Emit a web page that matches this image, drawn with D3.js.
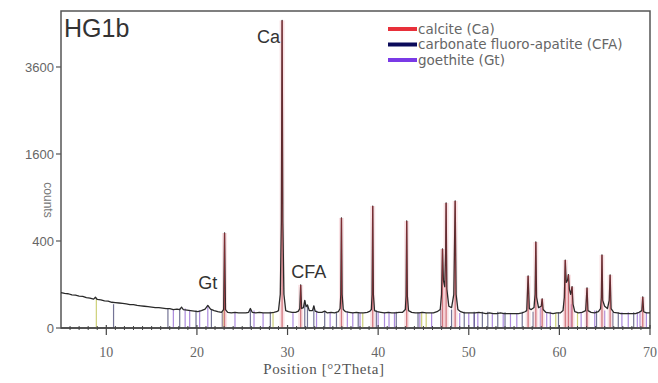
<!DOCTYPE html>
<html>
<head>
<meta charset="utf-8">
<script src="https://cdn.jsdelivr.net/npm/d3@7/dist/d3.min.js"></script>
<style>
  html, body { margin: 0; padding: 0; background: #fff; }
  svg { display: block; }
</style>
</head>
<body>
<div id="chart"></div>
<script>
// measured pattern, [°2Theta, counts]
const pattern = [
  [5.0, 66], [5.4, 63], [5.8, 62], [6.2, 58], [6.6, 57], [7.0, 54], [7.4, 53], [7.8, 49],
  [8.2, 47], [8.6, 44], [8.8, 50], [9.0, 43], [9.4, 42], [9.8, 39], [10.2, 38], [10.6, 35],
  [11.0, 34], [11.4, 33], [11.8, 32], [12.2, 31], [12.6, 29], [13.0, 29], [13.4, 27], [13.8, 26],
  [14.2, 25], [14.6, 24], [15.0, 23], [15.4, 22], [15.8, 22], [16.2, 21], [16.6, 20], [17.0, 20],
  [17.4, 18], [17.8, 19], [18.1, 18], [18.3, 23], [18.5, 18], [18.9, 17], [19.3, 16], [19.7, 15],
  [20.1, 14], [20.5, 16], [20.9, 19], [21.2, 27], [21.5, 19], [21.9, 16], [22.3, 14], [22.7, 13],
  [22.95, 18], [23.05, 477], [23.15, 18], [23.4, 13], [23.8, 12], [24.2, 13], [24.6, 12], [25.0, 12],
  [25.4, 12], [25.7, 13], [25.9, 20], [26.1, 13], [26.5, 12], [26.9, 13], [27.3, 12], [27.7, 12],
  [28.1, 12], [28.5, 13], [28.8, 14], [29.0, 16], [29.2, 60], [29.32, 600], [29.4, 5000], [29.48, 600],
  [29.6, 60], [29.8, 16], [30.1, 14], [30.5, 13], [30.9, 13], [31.2, 15], [31.35, 20], [31.45, 98],
  [31.55, 20], [31.75, 22], [31.9, 40], [32.05, 24], [32.2, 28], [32.4, 16], [32.75, 16], [32.9, 26],
  [33.05, 15], [33.4, 13], [33.8, 13], [34.1, 15], [34.4, 12], [34.8, 13], [35.2, 12], [35.6, 14],
  [35.8, 20], [35.88, 60], [35.95, 640], [36.02, 60], [36.15, 18], [36.4, 14], [36.8, 13], [37.2, 12],
  [37.6, 13], [38.0, 12], [38.4, 12], [38.8, 13], [39.1, 15], [39.25, 18], [39.33, 60], [39.4, 786],
  [39.47, 60], [39.6, 16], [39.9, 14], [40.3, 13], [40.7, 12], [41.1, 13], [41.5, 12], [41.9, 12],
  [42.3, 13], [42.7, 13], [43.0, 18], [43.08, 55], [43.15, 605], [43.22, 55], [43.35, 16], [43.7, 13],
  [44.1, 12], [44.5, 12], [44.9, 13], [45.3, 12], [45.7, 12], [46.1, 12], [46.5, 14], [46.85, 18],
  [47.0, 60], [47.1, 330], [47.2, 120], [47.35, 90], [47.45, 300], [47.5, 826], [47.58, 80], [47.8, 25],
  [48.1, 22], [48.35, 60], [48.5, 852], [48.6, 60], [48.8, 18], [49.1, 14], [49.5, 12], [49.9, 12],
  [50.3, 12], [50.7, 12], [51.1, 13], [51.5, 12], [51.9, 11], [52.3, 12], [52.7, 11], [53.1, 11],
  [53.5, 12], [53.9, 11], [54.3, 11], [54.7, 11], [55.1, 11], [55.5, 11], [55.9, 12], [56.2, 14],
  [56.4, 16], [56.55, 143], [56.68, 20], [56.9, 18], [57.2, 22], [57.32, 60], [57.4, 391], [57.48, 50],
  [57.7, 22], [58.0, 25], [58.1, 45], [58.2, 18], [58.5, 13], [58.9, 12], [59.3, 11], [59.7, 12],
  [60.1, 12], [60.4, 16], [60.55, 50], [60.65, 244], [60.75, 110], [60.9, 120], [61.0, 150], [61.1, 80],
  [61.25, 60], [61.4, 90], [61.5, 30], [61.7, 14], [62.1, 12], [62.5, 13], [62.9, 16], [63.05, 85],
  [63.15, 16], [63.5, 13], [63.9, 12], [64.3, 14], [64.55, 20], [64.63, 50], [64.7, 282], [64.78, 40],
  [65.0, 25], [65.3, 20], [65.5, 40], [65.6, 149], [65.7, 20], [66.0, 13], [66.4, 12], [66.8, 11],
  [67.2, 11], [67.6, 11], [68.0, 11], [68.4, 11], [68.8, 13], [69.1, 16], [69.2, 51], [69.3, 14],
  [69.6, 12], [70.0, 12]
];

// reference sticks, [°2Theta, counts]
const calciteSticks = [
  [23.05, 477], [29.4, 5000], [31.45, 98], [35.95, 640], [39.4, 786], [43.15, 605], [47.1, 330],
  [47.5, 826], [48.5, 852], [56.55, 143], [57.4, 391], [58.1, 45], [60.65, 244], [61.0, 150],
  [61.4, 90], [63.05, 85], [64.7, 282], [65.6, 149], [69.2, 51]
];
const cfaSticks = [
  [10.8, 30], [16.8, 20], [18.1, 20], [19.9, 16], [21.6, 18], [22.8, 14], [25.9, 20], [28.1, 14],
  [31.9, 40], [32.2, 28], [32.9, 26], [34.1, 14], [35.4, 13], [37.8, 13], [39.8, 16], [42.0, 14],
  [44.4, 13], [46.9, 20], [48.1, 18], [49.5, 14], [50.6, 14], [51.5, 14], [52.1, 14], [53.2, 14],
  [54.0, 13], [55.9, 14], [57.1, 14], [59.9, 13], [63.0, 16], [64.1, 16], [65.9, 13], [66.5, 13],
  [68.2, 13]
];
const goethiteSticks = [
  [17.4, 18], [18.7, 20], [19.2, 16], [20.3, 16], [21.2, 27], [24.2, 12], [26.3, 16], [27.3, 12],
  [30.6, 13], [33.2, 16], [34.7, 13], [36.6, 15], [37.2, 13], [38.0, 12], [40.0, 14], [40.7, 13],
  [41.2, 14], [41.8, 13], [44.6, 12], [45.9, 12], [49.0, 12], [50.0, 12], [50.6, 12], [51.0, 12],
  [52.6, 12], [53.8, 12], [54.6, 12], [55.3, 12], [57.9, 22], [58.6, 14], [59.0, 14], [61.3, 30],
  [62.4, 14], [63.9, 16], [65.0, 16], [66.9, 13], [67.6, 13], [68.6, 13], [68.9, 14], [69.6, 13]
];
const otherSticks = [
  [8.9, 45], [22.9, 18], [28.4, 14], [38.3, 12], [44.8, 14], [45.3, 12], [59.6, 12], [62.0, 12]
];

const legendItems = [
  { label: "calcite (Ca)", color: "#e8303a" },
  { label: "carbonate fluoro-apatite (CFA)", color: "#0b0b5a" },
  { label: "goethite (Gt)", color: "#7a3ae6" }
];
const peakLabels = [
  { text: "Ca", x: 29.4, y: 4300, anchor: "end" },
  { text: "Gt", x: 21.2, y: 80, anchor: "middle" },
  { text: "CFA", x: 30.4, y: 132, anchor: "start" }
];
const xTicks = [10, 20, 30, 40, 50, 60, 70];
const xMinor = d3.range(6, 70, 1);
const yTicks = [0, 400, 1600, 3600];

const W = 658, H = 383;
const mLeft = 61, mRight = 650, mTop = 11, mBottom = 328;

const x = d3.scaleLinear().domain([5, 70]).range([mLeft, mRight]);
const y = d3.scaleSqrt().domain([0, 5310]).range([mBottom, mTop]);

const svg = d3.select("#chart").append("svg")
  .attr("width", W).attr("height", H)
  .style("font-family", "Arial, 'Liberation Sans', sans-serif");

// frame
svg.append("rect")
  .attr("x", mLeft).attr("y", mTop)
  .attr("width", mRight - mLeft).attr("height", mBottom - mTop)
  .attr("fill", "none").attr("stroke", "#555").attr("stroke-width", 1.5);

const plot = svg.append("g");

// reference sticks
function drawSticks(data, color, width, opacity) {
  plot.append("g").selectAll("line").data(data).enter().append("line")
    .attr("x1", d => x(d[0])).attr("x2", d => x(d[0]))
    .attr("y1", y(0)).attr("y2", d => y(d[1]))
    .attr("stroke", color).attr("stroke-width", width).attr("opacity", opacity);
}
drawSticks(otherSticks, "#c9cc6a", 1.2, 0.9);
drawSticks(goethiteSticks, "#8a5ad0", 1.2, 0.7);
drawSticks(cfaSticks, "#3a3a6a", 1.2, 0.7);
// pink halo round calcite peaks
drawSticks(calciteSticks, "#f2b9bf", 5, 0.4);

// measured pattern
const line = d3.line().x(d => x(d[0])).y(d => y(d[1]));
plot.append("path").datum(pattern)
  .attr("d", line).attr("fill", "none")
  .attr("stroke", "#2a2a2a").attr("stroke-width", 1.3).attr("stroke-linejoin", "round");

drawSticks(calciteSticks, "#b8303a", 1.3, 0.6);

// x axis
const xg = svg.append("g").attr("transform", `translate(0,${mBottom})`);
xg.append("line").attr("x1", mLeft).attr("x2", mRight).attr("stroke", "#444").attr("stroke-width", 1.5);
xg.selectAll(".minor").data(xMinor.filter(v => v % 10 !== 0)).enter().append("line")
  .attr("x1", d => x(d)).attr("x2", d => x(d)).attr("y1", -2).attr("y2", 2)
  .attr("stroke", "#444").attr("stroke-width", 1);
xg.selectAll(".major").data(xTicks).enter().append("line")
  .attr("x1", d => x(d)).attr("x2", d => x(d)).attr("y1", -3).attr("y2", 7)
  .attr("stroke", "#444").attr("stroke-width", 1.2);
xg.selectAll("text").data(xTicks).enter().append("text")
  .attr("x", d => x(d)).attr("y", 29)
  .attr("text-anchor", "middle").attr("font-size", 14).attr("fill", "#666")
  .style("font-family", "'Liberation Serif', serif")
  .text(d => d);

// y axis
const yg = svg.append("g").attr("transform", `translate(${mLeft},0)`);
yg.selectAll("line").data(yTicks).enter().append("line")
  .attr("x1", -5).attr("x2", 0).attr("y1", d => y(d)).attr("y2", d => y(d))
  .attr("stroke", "#555").attr("stroke-width", 1.2);
yg.selectAll("text").data(yTicks).enter().append("text")
  .attr("x", -7).attr("y", d => y(d) + 5)
  .attr("text-anchor", "end").attr("font-size", 13).attr("fill", "#666")
  .text(d => d);

svg.append("text")
  .attr("transform", "translate(44,200) rotate(90)")
  .attr("text-anchor", "middle").attr("font-size", 12).attr("fill", "#777")
  .text("counts");

svg.append("text")
  .attr("x", 324).attr("y", 374)
  .attr("text-anchor", "middle").attr("font-size", 15).attr("fill", "#555")
  .attr("letter-spacing", 0.6)
  .style("font-family", "'Liberation Serif', serif")
  .text("Position [°2Theta]");

// sample name
svg.append("text")
  .attr("x", 64).attr("y", 37)
  .attr("font-size", 25).attr("fill", "#333")
  .text("HG1b");

// peak labels
svg.selectAll(".plabel").data(peakLabels).enter().append("text")
  .attr("x", d => x(d.x) - (d.anchor === "end" ? 2 : 0))
  .attr("y", d => y(d.y))
  .attr("text-anchor", d => d.anchor)
  .attr("font-size", 18).attr("fill", "#333")
  .text(d => d.text);

// legend
const lg = svg.append("g").attr("transform", "translate(388,29)");
legendItems.forEach((d, i) => {
  const row = lg.append("g").attr("transform", `translate(0,${i * 15.5})`);
  row.append("line").attr("x1", 0).attr("x2", 29).attr("y1", 0).attr("y2", 0)
    .attr("stroke", d.color).attr("stroke-width", 4);
  row.append("text").attr("x", 30).attr("y", 4.5)
    .attr("font-size", 13.5).attr("fill", "#666")
    .style("font-family", "'DejaVu Sans', sans-serif")
    .text(d.label);
});
</script>
</body>
</html>
